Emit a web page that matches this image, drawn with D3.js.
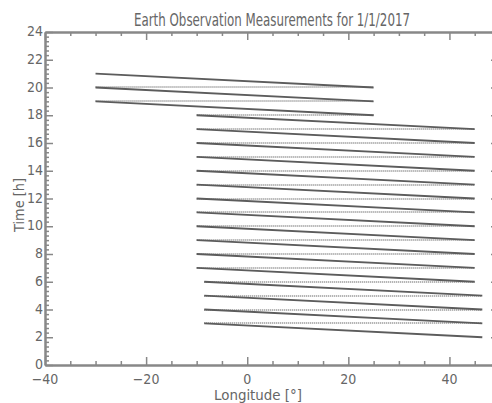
<!DOCTYPE html>
<html>
<head>
<meta charset="utf-8">
<script src="https://cdn.jsdelivr.net/npm/d3@7"></script>
<style>
  html, body { margin: 0; padding: 0; background: #fff; }
  svg { display: block; }
  text { font-family: "Liberation Sans Narrow", "DejaVu Sans Condensed", "Liberation Sans", sans-serif; fill: #666; }
</style>
</head>
<body>
<svg id="chart" width="492" height="403"></svg>
<script>
// Measurement passes: each track runs from a start longitude/time to an end longitude/time
const startLon  = [-30, -30, -30, -10, -10, -10, -10, -10, -10, -10, -10, -10, -10, -10, -10, -8.5, -8.5, -8.5, -8.5];
const endLon    = [ 25,  25,  25,  45,  45,  45,  45,  45,  45,  45,  45,  45,  45,  45,  45, 46.5, 46.5, 46.5, 46.5];
const startTime = [ 21,  20,  19,  18,  17,  16,  15,  14,  13,  12,  11,  10,   9,   8,   7,    6,    5,    4,    3];
const endTime   = [ 20,  19,  18,  17,  16,  15,  14,  13,  12,  11,  10,   9,   8,   7,   6,    5,    4,    3,    2];

// Axis tick values and labels
const xTicks = [-40, -20, 0, 20, 40];
const yTicks = [0, 2, 4, 6, 8, 10, 12, 14, 16, 18, 20, 22, 24];

const titleText = "Earth Observation Measurements for 1/1/2017";
const xLabel = "Longitude [°]";
const yLabel = "Time [h]";

const svg = d3.select("#chart");
const mLeft = 45, mRight = 500, mTop = 32, mBottom = 365;

const x = d3.scaleLinear().domain([-40, 50]).range([mLeft, mRight]);
const y = d3.scaleLinear().domain([0, 24]).range([mBottom, mTop]);

const axisColor = "#888";

const passes = startLon.map((d, i) => ({lon0: d, lon1: endLon[i], t0: startTime[i], t1: endTime[i]}));

// Hand-over levels: where one pass ends and the next begins at the same time,
// a dotted line joins the start of the new pass to the end of the previous one
const handovers = passes.slice(1)
  .map((p, i) => ({prev: passes[i], next: p}))
  .filter(d => d.prev.t1 === d.next.t0);

svg.append("g").selectAll("line").data(handovers).join("line")
  .attr("x1", d => x(d.next.lon0)).attr("x2", d => x(d.prev.lon1))
  .attr("y1", d => Math.round(y(d.next.t0))).attr("y2", d => Math.round(y(d.next.t0)))
  .attr("stroke", "#9c9c9c").attr("stroke-width", 2)
  .attr("stroke-dasharray", "1,1");

// Ground track of each pass
svg.append("g").selectAll("line").data(passes).join("line")
  .attr("x1", d => x(d.lon0)).attr("x2", d => x(d.lon1))
  .attr("y1", d => y(d.t0)).attr("y2", d => y(d.t1))
  .attr("stroke", "#5c5c5c").attr("stroke-width", 1.8);

// Frame axes: ticks point inward on all four sides
function styleAxis(g) {
  g.select(".domain").attr("stroke", axisColor).attr("stroke-width", 2);
  g.selectAll(".tick line").attr("stroke", axisColor).attr("stroke-width", 1.5);
  g.selectAll("text").remove();
}
const xMinor = d3.range(-40, 50.01, 5).filter(v => !xTicks.includes(v));
const yMinor = d3.range(0, 24.001, 1/3).map(v => +v.toFixed(4)).filter(v => Math.abs(v - Math.round(v / 2) * 2) > 1e-3);

// bottom
svg.append("g").attr("transform", `translate(0,${mBottom})`)
  .call(d3.axisTop(x).tickValues(xTicks).tickSize(8).tickSizeOuter(0)).call(styleAxis);
svg.append("g").attr("transform", `translate(0,${mBottom})`)
  .call(d3.axisTop(x).tickValues(xMinor).tickSize(4).tickSizeOuter(0)).call(styleAxis);
// top
svg.append("g").attr("transform", `translate(0,${mTop})`)
  .call(d3.axisBottom(x).tickValues(xTicks).tickSize(8).tickSizeOuter(0)).call(styleAxis);
svg.append("g").attr("transform", `translate(0,${mTop})`)
  .call(d3.axisBottom(x).tickValues(xMinor).tickSize(4).tickSizeOuter(0)).call(styleAxis);
// left
svg.append("g").attr("transform", `translate(${mLeft},0)`)
  .call(d3.axisRight(y).tickValues(yTicks).tickSize(8).tickSizeOuter(0)).call(styleAxis);
svg.append("g").attr("transform", `translate(${mLeft},0)`)
  .call(d3.axisRight(y).tickValues(yMinor).tickSize(4).tickSizeOuter(0)).call(styleAxis);
// right
svg.append("g").attr("transform", `translate(${mRight},0)`)
  .call(d3.axisLeft(y).tickValues(yTicks).tickSize(9).tickSizeOuter(0)).call(styleAxis);

// Tick labels
svg.append("g").selectAll("text").data(xTicks).join("text")
  .attr("x", d => x(d)).attr("y", 384)
  .attr("text-anchor", "middle").attr("font-size", 14)
  .text(d => d < 0 ? "\u2212" + Math.abs(d) : d);

svg.append("g").selectAll("text").data(yTicks).join("text")
  .attr("x", 43).attr("y", d => y(d) + 4)
  .attr("text-anchor", "end").attr("font-size", 14)
  .text(d => d);

// Title and axis titles
svg.append("text").attr("x", 272).attr("y", 26)
  .attr("text-anchor", "middle").attr("font-size", 17)
  .attr("textLength", 276).attr("lengthAdjust", "spacingAndGlyphs")
  .text(titleText);

svg.append("text").attr("x", 258).attr("y", 400)
  .attr("text-anchor", "middle").attr("font-size", 14)
  .attr("textLength", 88).attr("lengthAdjust", "spacingAndGlyphs")
  .text(xLabel);

svg.append("text").attr("transform", "translate(24,205) rotate(-90)")
  .attr("text-anchor", "middle").attr("font-size", 14)
  .attr("textLength", 54).attr("lengthAdjust", "spacingAndGlyphs")
  .text(yLabel);
</script>
</body>
</html>
